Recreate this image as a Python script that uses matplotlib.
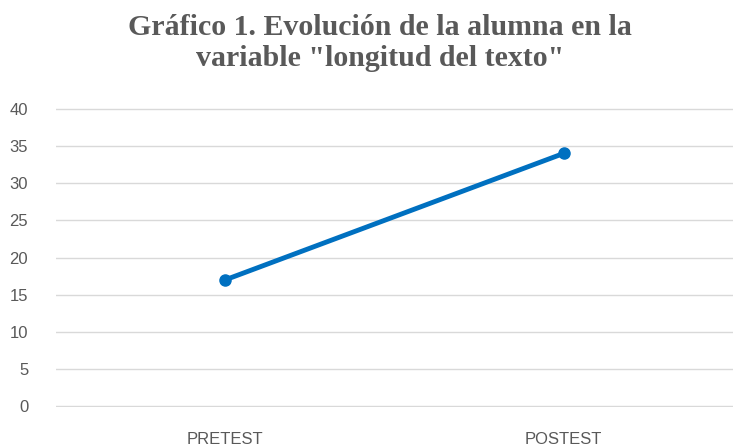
import matplotlib
matplotlib.use("Agg")
import matplotlib.pyplot as plt

# Data
categories = ["PRETEST", "POSTEST"]
values = [17, 34]
yticks = [0, 5, 10, 15, 20, 25, 30, 35, 40]

gray = "#595959"

fig = plt.figure(figsize=(7.33, 4.46), dpi=100)
ax = fig.add_axes([0.0764, 0.0874, 0.9236, 0.6704])

x = [0.5, 1.5]
ax.plot(x, values, color="#0070C0", linewidth=3.5, marker="o", markersize=8,
        solid_capstyle="round")

ax.set_xlim(0, 2)
ax.set_ylim(-0.1, 40.1)
ax.set_yticks(yticks)
ax.set_xticks(x)
ax.set_xticklabels(categories)

ax.grid(axis="y", color="#d9d9d9", linewidth=1)
ax.set_axisbelow(True)
for s in ax.spines.values():
    s.set_visible(False)
ax.tick_params(length=0, labelsize=12, labelcolor=gray)
ax.tick_params(axis="x", pad=18)
ax.tick_params(axis="y", pad=20)
for lbl in ax.get_xticklabels() + ax.get_yticklabels():
    lbl.set_fontfamily("Liberation Sans")

fig.text(0.518, 0.968, 'Gráfico 1. Evolución de la alumna en la\nvariable "longitud del texto"',
         ha="center", va="top", fontsize=21.5, fontweight="bold",
         family="Liberation Serif", color=gray, linespacing=1.2)

fig.savefig("out.png", dpi=100)
